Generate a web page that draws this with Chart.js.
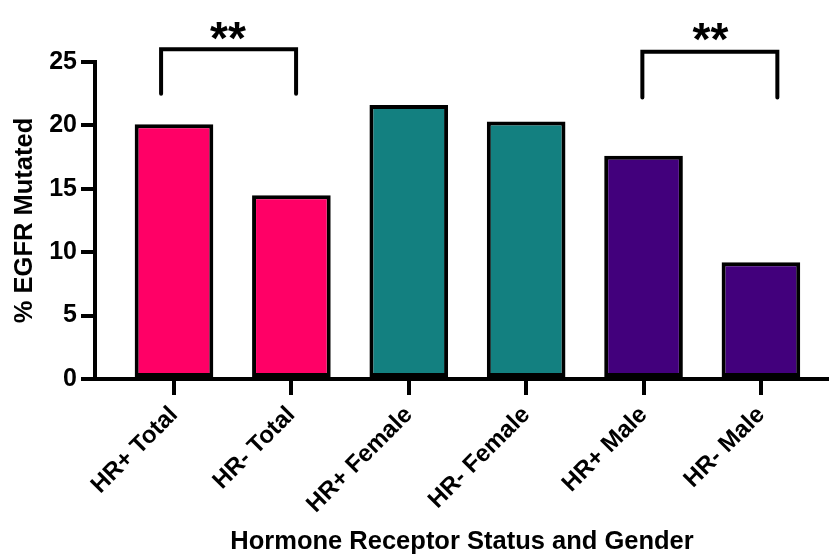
<!DOCTYPE html>
<html lang="en">
<head>
  <meta charset="UTF-8">
  <title>% EGFR Mutated by Hormone Receptor Status and Gender</title>
  <script src="https://cdn.jsdelivr.net/npm/chart.js"></script>
  <style>
    html, body { margin: 0; padding: 0; background: #fff; }
    canvas { display: block; }
  </style>
</head>
<body>
  <canvas id="egfrChart" width="829" height="555"></canvas>

  <script>
    // categories and values
    const categories = ["HR+ Total", "HR- Total", "HR+ Female", "HR- Female", "HR+ Male", "HR- Male"];
    const egfrMutated = [20.1, 14.5, 21.6, 20.3, 17.6, 9.2];
    const barColors = ["#FF0066", "#FF0066", "#138080", "#138080", "#42007C", "#42007C"];
    const yTicks = [0, 5, 10, 15, 20, 25];

    // significance brackets (x in category index units, y in %)
    const bracketTotal = [{ x: -0.11, y: 22.5 }, { x: -0.11, y: 26.0 }, { x: 1.04, y: 26.0 }, { x: 1.04, y: 22.5 }];
    const bracketMale = [{ x: 3.99, y: 22.2 }, { x: 3.99, y: 25.8 }, { x: 5.14, y: 25.8 }, { x: 5.14, y: 22.2 }];
    const starLabels = ["**", "**"];
    const starX = [0.46, 4.57];
    const starY = [25.65, 25.55];

    const FONT = "'Liberation Sans', Arial, sans-serif";

    const starPlugin = {
      id: 'stars',
      afterDatasetsDraw(chart) {
        const { ctx, scales: { x, y } } = chart;
        ctx.save();
        ctx.fillStyle = '#000';
        ctx.font = `bold 46px ${FONT}`;
        ctx.textAlign = 'center';
        ctx.textBaseline = 'alphabetic';
        starLabels.forEach((s, i) => {
          ctx.fillText(s, x.getPixelForValue(starX[i]), y.getPixelForValue(starY[i]));
        });
        ctx.restore();
      }
    };

    const bracket = data => ({
      type: 'line',
      data,
      borderColor: '#000',
      borderWidth: 4,
      borderCapStyle: 'round',
      borderJoinStyle: 'miter',
      pointRadius: 0,
      tension: 0,
      clip: false
    });

    new Chart(document.getElementById('egfrChart').getContext('2d'), {
      type: 'bar',
      data: {
        datasets: [
          {
            type: 'bar',
            data: egfrMutated.map((v, i) => ({ x: i, y: v })),
            backgroundColor: barColors,
            borderColor: '#000',
            borderWidth: 4,
            borderSkipped: false,
            categoryPercentage: 1,
            barPercentage: 0.67
          },
          bracket(bracketTotal),
          bracket(bracketMale)
        ]
      },
      options: {
        responsive: false,
        animation: false,
        layout: { padding: { top: 62, right: 0, bottom: 0, left: 0 } },
        plugins: { legend: { display: false }, tooltip: { enabled: false } },
        scales: {
          x: {
            type: 'linear',
            min: -0.673,
            max: 5.58,
            offset: false,
            afterFit: s => { s.height = 176; },
            afterBuildTicks: s => { s.ticks = categories.map((c, i) => ({ value: i })); },
            border: { display: true, color: '#000', width: 4 },
            grid: { offset: false, drawOnChartArea: false, color: '#000', lineWidth: 4, tickLength: 16 },
            ticks: {
              callback: v => categories[v],
              minRotation: 45,
              maxRotation: 45,
              autoSkip: false,
              color: '#000',
              padding: 6,
              font: { family: FONT, size: 24, weight: 'bold' }
            },
            title: {
              display: true,
              text: 'Hormone Receptor Status and Gender',
              color: '#000',
              padding: { top: 0, bottom: -2 },
              font: { family: FONT, size: 25.5, weight: 'bold' }
            }
          },
          y: {
            min: 0,
            max: 25,
            afterFit: s => { s.width = 95; },
            afterBuildTicks: s => { s.ticks = yTicks.map(v => ({ value: v })); },
            border: { display: true, color: '#000', width: 4 },
            grid: { drawOnChartArea: false, color: '#000', lineWidth: 4, tickLength: 14 },
            ticks: {
              color: '#000',
              padding: 4,
              font: { family: FONT, size: 25, weight: 'bold' }
            },
            title: {
              display: true,
              text: '% EGFR Mutated',
              color: '#000',
              padding: { top: 10, bottom: 0 },
              font: { family: FONT, size: 25.5, weight: 'bold' }
            }
          }
        }
      },
      plugins: [starPlugin]
    });
  </script>
</body>
</html>
